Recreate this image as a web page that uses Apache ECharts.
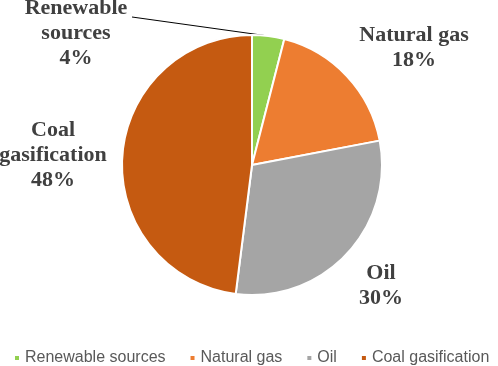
<!DOCTYPE html>
<html>
<head>
<meta charset="utf-8">
<script src="https://cdn.jsdelivr.net/npm/echarts@6/dist/echarts.min.js"></script>
<style>
  html, body { margin: 0; padding: 0; background: #fff; }
  #main { width: 498px; height: 366px; }
</style>
</head>
<body>
<div id="main"></div>
<script>
// data
var categories = ['Renewable sources', 'Natural gas', 'Oil', 'Coal gasification'];
var shares = [4, 18, 30, 48];
var labelNames = ['Renewable\nsources', 'Natural gas', 'Oil', 'Coal\ngasification'];
var colors = ['#92d050', '#ed7d31', '#a5a5a5', '#c55a11'];

// where each label block sits (text centre, px); lineEnd only for the leader line
var labelPos = [
  { x: 76, y: 33, lineEnd: [132, 17] },
  { x: 414, y: 48 },
  { x: 381, y: 286 },
  { x: 53, y: 155 }
];

var chart = echarts.init(document.getElementById('main'), null, { renderer: 'canvas' });

var seriesData = categories.map(function (c, i) {
  return {
    name: c,
    value: shares[i],
    itemStyle: { color: colors[i] },
    labelLine: { show: i === 0 }
  };
});

chart.setOption({
  animation: false,
  legend: {
    data: categories,
    bottom: 0,
    left: 13,
    width: 485,
    padding: 0,
    icon: 'rect',
    itemWidth: 6,
    itemHeight: 6,
    itemGap: 23,
    textStyle: {
      color: '#595959',
      fontSize: 16,
      fontFamily: 'Liberation Sans'
    }
  },
  series: [
    {
      type: 'pie',
      center: [252, 165],
      radius: 130,
      startAngle: 90,
      clockwise: true,
      data: seriesData,
      itemStyle: {
        borderColor: '#fff',
        borderWidth: 2
      },
      label: {
        show: true,
        position: 'outside',
        overflow: 'none',
        formatter: function (p) {
          return labelNames[p.dataIndex] + '\n' + p.value + '%';
        },
        fontFamily: 'Liberation Serif',
        fontWeight: 'bold',
        fontSize: 22,
        lineHeight: 25,
        color: '#404040',
        align: 'center'
      },
      labelLine: {
        show: false,
        length: 3,
        length2: 5,
        lineStyle: { color: '#000', width: 1 }
      },
      labelLayout: function (params) {
        var p = labelPos[params.dataIndex];
        var out = {
          x: p.x,
          y: p.y,
          align: 'center',
          verticalAlign: 'middle'
        };
        if (p.lineEnd && params.labelLinePoints) {
          out.labelLinePoints = [params.labelLinePoints[0], p.lineEnd];
        }
        return out;
      },
      emphasis: { disabled: true }
    }
  ]
});
</script>
</body>
</html>
